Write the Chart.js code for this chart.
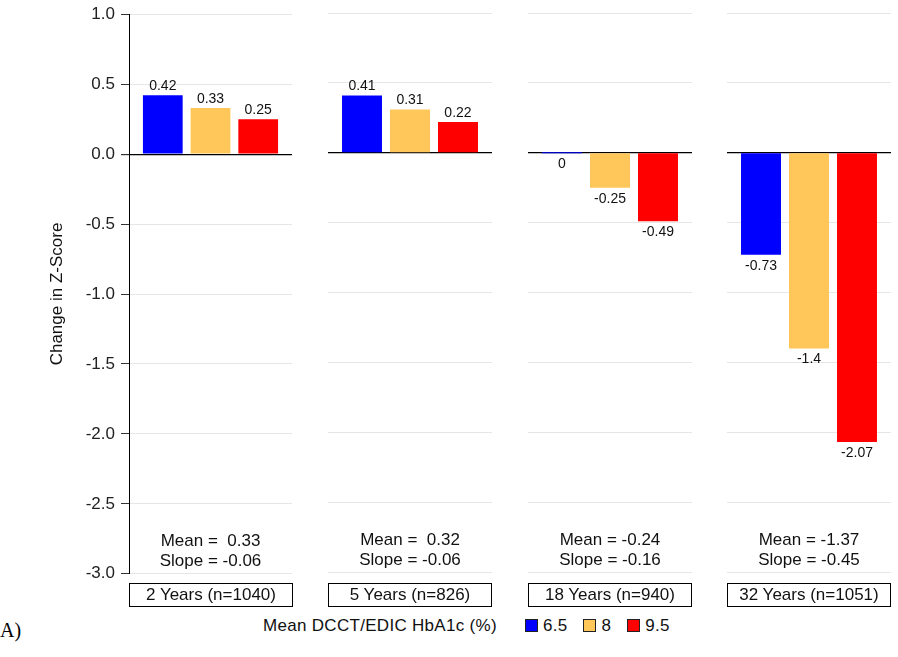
<!DOCTYPE html>
<html>
<head>
<meta charset="utf-8">
<script src="https://cdn.jsdelivr.net/npm/chart.js@4"></script>
<style>
  body { margin: 0; background: #fff; font-family: "Liberation Sans", Arial, sans-serif; }
  #wrap { position: relative; width: 898px; height: 657px; overflow: hidden; }
  .panel { position: absolute; top: 0; height: 585px; }
  .box { position: absolute; top: 583px; height: 22px; border: 1px solid #000; box-sizing: content-box;
         font-size: 17px; line-height: 22px; text-align: center; color: #111; }
  #legend { position: absolute; top: 616px; left: 263px; font-size: 17px; color: #111; white-space: nowrap; letter-spacing: 0.3px; }
  #legend span.sw { display: inline-block; width: 11px; height: 11px; border: 1px solid #222; vertical-align: -1px; margin: 0 5px 0 0; }
  #legend span.it { margin-left: 16px; }
  #legend span.it:first-child { margin-left: 28px; }
  #tag { position: absolute; left: 0; top: 619px; font-family: "Liberation Serif", "Times New Roman", serif; font-size: 20px; }
</style>
</head>
<body>
<div id="wrap">
  <div class="panel" style="left:0;top:-2px;width:293px;height:592px"><canvas id="c0"></canvas></div>
  <div class="panel" style="left:328px;width:164px"><canvas id="c1"></canvas></div>
  <div class="panel" style="left:528px;width:164px"><canvas id="c2"></canvas></div>
  <div class="panel" style="left:727px;width:164px"><canvas id="c3"></canvas></div>
  <div id="boxes"></div>
  <div id="legend"></div>
  <div id="tag">A)</div>
</div>
<script>
const PERIODS = ['2 Years (n=1040)', '5 Years (n=826)', '18 Years (n=940)', '32 Years (n=1051)'];
const LEVELS = ['6.5', '8', '9.5'];
const HBA1C_65 = [0.42, 0.41, 0, -0.73];
const HBA1C_8 = [0.33, 0.31, -0.25, -1.4];
const HBA1C_95 = [0.25, 0.22, -0.49, -2.07];
const MEANS = [0.33, 0.32, -0.24, -1.37];
const SLOPES = [-0.06, -0.06, -0.16, -0.45];

const COLORS = ['#0000ff', '#ffc65a', '#ff0000'];
const SERIES = [HBA1C_65, HBA1C_8, HBA1C_95];
const BOX_LEFT = [129, 328, 528, 727];
const FONT = '"Liberation Sans", Arial, sans-serif';

const fmt = v => (v >= 0 ? ' ' : '') + v.toFixed(2);

// value labels on the bars, mean/slope text at bottom of each panel
const panelText = {
    id: 'panelText',
    afterDatasetsDraw(chart, args, opts) {
        const ctx = chart.ctx;
        const area = chart.chartArea;
        ctx.save();
        ctx.fillStyle = '#111';
        ctx.textAlign = 'center';
        ctx.textBaseline = 'middle';
        ctx.font = '14px ' + FONT;
        chart.data.datasets.forEach((ds, i) => {
            chart.getDatasetMeta(i).data.forEach((el, j) => {
                const v = ds.data[j];
                const y = v > 0 ? el.y - 9 : Math.max(el.y, el.base) + 11;
                ctx.fillText(String(v), el.x, y);
            });
        });
        ctx.font = '17px ' + FONT;
        const cx = (area.left + area.right) / 2;
        ctx.fillText('Mean = ' + fmt(MEANS[opts.panel]), cx, area.bottom - 32);
        ctx.fillText('Slope = ' + SLOPES[opts.panel].toFixed(2), cx, area.bottom - 12);
        ctx.restore();
    }
};

PERIODS.forEach((p, k) => {
    const first = k === 0;
    new Chart(document.getElementById('c' + k), {
        type: 'bar',
        data: {
            labels: [p],
            datasets: LEVELS.map((lv, i) => ({
                label: lv,
                data: [SERIES[i][k]],
                backgroundColor: COLORS[i],
                borderWidth: 0,
                minBarLength: 1,
                categoryPercentage: 0.878,
                barPercentage: 0.833,
            }))
        },
        options: {
            responsive: true,
            maintainAspectRatio: false,
            animation: false,
            layout: { padding: first ? { top: 11, bottom: 8, left: 43, right: 1 } : { top: 13, bottom: 13, left: 0, right: 0 } },
            scales: {
                x: { display: false },
                y: {
                    min: -3,
                    max: 1,
                    afterFit: s => { s.width = first ? 86 : 0; },
                    border: { display: first, color: '#000', width: 1 },
                    grid: {
                        color: c => c.tick && c.tick.value === 0 ? '#000' : '#e6e6e6',
                        lineWidth: c => c.tick && c.tick.value === 0 ? 1.2 : 1,
                        tickColor: '#333',
                        tickLength: 8,
                        drawTicks: first,
                    },
                    ticks: {
                        display: first,
                        stepSize: 0.5,
                        padding: 6,
                        color: '#222',
                        font: { family: FONT, size: 17 },
                        callback: v => Number(v).toFixed(1),
                    },
                    title: {
                        display: first,
                        text: 'Change in Z-Score',
                        color: '#111',
                        font: { family: FONT, size: 17 },
                    },
                },
            },
            plugins: {
                legend: { display: false },
                tooltip: { enabled: false },
                panelText: { panel: k },
            },
        },
        plugins: [panelText],
    });
});

// period boxes under the panels
const boxes = document.getElementById('boxes');
PERIODS.forEach((p, k) => {
    const d = document.createElement('div');
    d.className = 'box';
    d.style.left = BOX_LEFT[k] + 'px';
    d.style.width = '162px';
    d.textContent = p;
    boxes.appendChild(d);
});

// legend row
const legend = document.getElementById('legend');
legend.innerHTML = 'Mean DCCT/EDIC HbA1c (%)' + LEVELS.map((lv, i) =>
    `<span class="it"><span class="sw" style="background:${COLORS[i]}"></span>${lv}</span>`).join('');
</script>
</body>
</html>
